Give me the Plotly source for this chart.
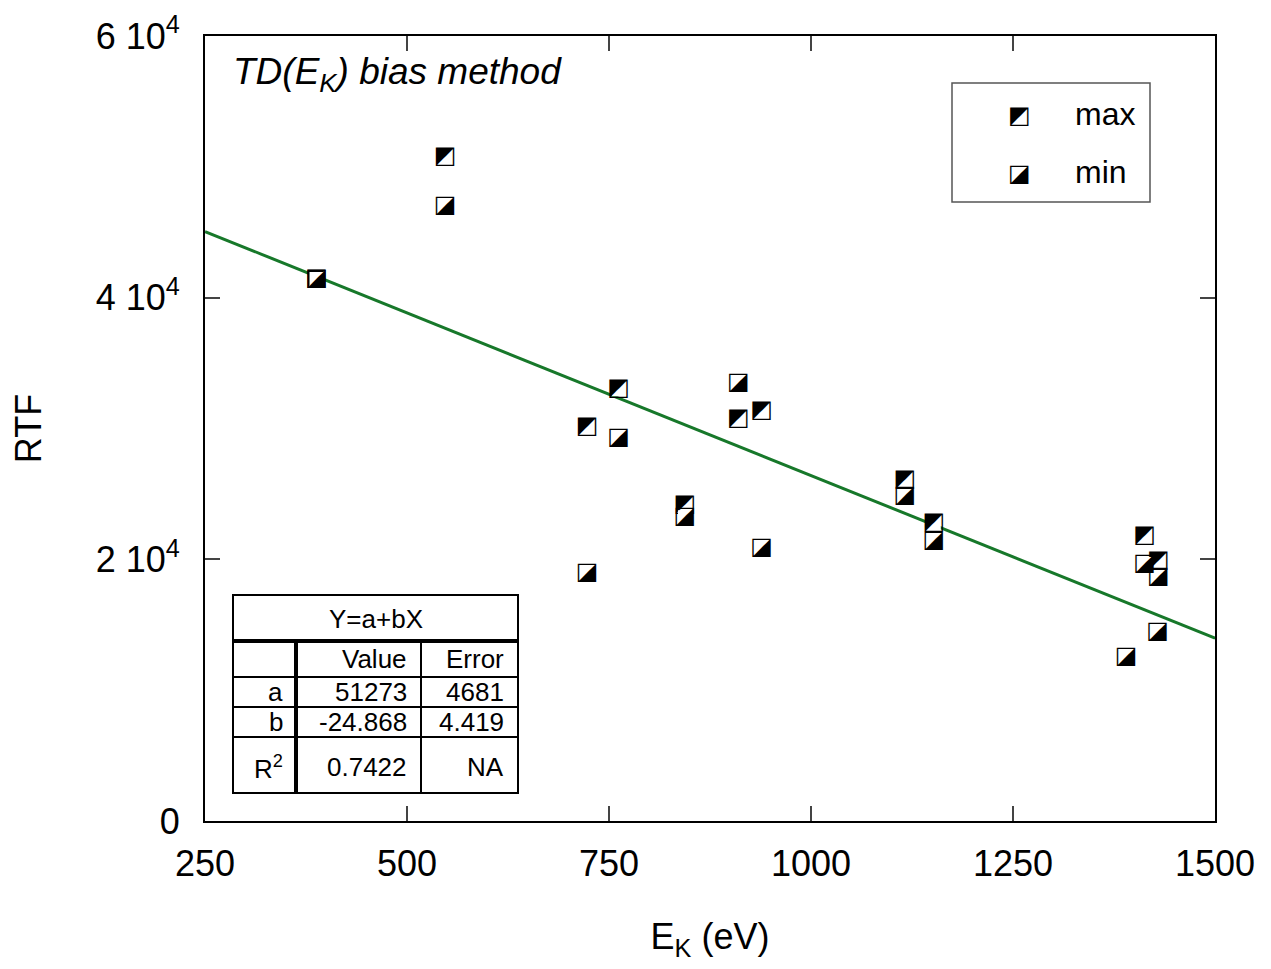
import plotly.graph_objects as go

# ---- data ----
max_x = [388, 547, 723, 762, 844, 910, 939, 1116, 1152, 1413, 1430]
max_y = [41428, 50730, 30077, 32997, 24177, 30727, 31361, 26026, 22755, 21761, 19850]
min_x = [388, 547, 723, 762, 844, 910, 939, 1116, 1152, 1413, 1430, 1429, 1390]
min_y = [41428, 47022, 18933, 29298, 23221, 33456, 20867, 24819, 21379, 19644, 18627, 14423, 12512]
fit_a = 51273
fit_b = -24.868
fit_x = [250, 1500]
x_ticks = [250, 500, 750, 1000, 1250, 1500]
y_ticks = [0, 20000, 40000, 60000]
y_ticktext = ["0", "2 10<sup>4</sup>", "4 10<sup>4</sup>", "6 10<sup>4</sup>"]
table_rows = [["", "Value", "Error"],
              ["a", "51273", "4681"],
              ["b", "-24.868", "4.419"],
              ["R<sup>2</sup>", "0.7422", "NA"]]

FONT = "Liberation Sans, Arial, Helvetica, sans-serif"
GLYPH_FONT = "DejaVu Sans"
MAX_GLYPH = "\u25E9"
MIN_GLYPH = "\u25EA"
GSIZE = 24

OFF = 8  # browser body margin
W, H = 1271 - OFF, 969 - OFF
L, R, T, B = 197, 56, 28, 148
PW, PH = W - L - R, H - T - B


def px(x):
    return (x - OFF - L) / PW


def py(y):
    return (H - B - (y - OFF)) / PH


fig = go.Figure()

fit_y = [fit_a + fit_b * v for v in fit_x]
fig.add_trace(go.Scatter(x=fit_x, y=fit_y, mode="lines",
                         line=dict(color="#17782a", width=3), showlegend=False))
for xs, ys, g in [(max_x, max_y, MAX_GLYPH), (min_x, min_y, MIN_GLYPH)]:
    fig.add_trace(go.Scatter(x=xs, y=ys, mode="markers+text", text=[g] * len(xs),
                             textposition="middle center",
                             marker=dict(symbol="square", size=14, color="white",
                                         line=dict(width=0)),
                             textfont=dict(family=GLYPH_FONT, size=GSIZE, color="black"),
                             showlegend=False))

shapes = []
annotations = []

# title text
annotations.append(dict(x=px(231), y=py(74), xref="paper", yref="paper", xanchor="left",
                        yanchor="middle", showarrow=False,
                        text="<i>TD(E<sub>K</sub>) bias method</i>",
                        font=dict(family=FONT, size=37, color="black")))

# legend box
shapes.append(dict(type="rect", xref="paper", yref="paper", x0=px(952), x1=px(1150),
                   y0=py(83), y1=py(202), line=dict(color="#555555", width=1.5)))
for glyph, label, yy in [(MAX_GLYPH, "max", 115), (MIN_GLYPH, "min", 173)]:
    annotations.append(dict(x=px(1019), y=py(yy), xref="paper", yref="paper",
                            xanchor="center", yanchor="middle", showarrow=False,
                            text=glyph, font=dict(family=GLYPH_FONT, size=GSIZE, color="black")))
    annotations.append(dict(x=px(1073), y=py(yy - 1), xref="paper", yref="paper",
                            xanchor="left", yanchor="middle", showarrow=False,
                            text=label, font=dict(family=FONT, size=32, color="black")))

# fit table
tl, tr, tt, tb = 233, 518, 595, 793
shapes.append(dict(type="rect", xref="paper", yref="paper", x0=px(tl), x1=px(tr),
                   y0=py(tt), y1=py(tb), line=dict(color="black", width=2),
                   fillcolor="white", layer="above"))
shapes.append(dict(type="line", xref="paper", yref="paper", x0=px(tl), x1=px(tr),
                   y0=py(641), y1=py(641), line=dict(color="black", width=4)))
for ly in [677, 707, 737]:
    shapes.append(dict(type="line", xref="paper", yref="paper", x0=px(tl), x1=px(tr),
                       y0=py(ly), y1=py(ly), line=dict(color="black", width=2)))
shapes.append(dict(type="line", xref="paper", yref="paper", x0=px(296), x1=px(296),
                   y0=py(641), y1=py(tb), line=dict(color="black", width=4)))
shapes.append(dict(type="line", xref="paper", yref="paper", x0=px(421), x1=px(421),
                   y0=py(641), y1=py(tb), line=dict(color="black", width=2)))
annotations.append(dict(x=px(376), y=py(619), xref="paper", yref="paper", xanchor="center",
                        yanchor="middle", showarrow=False, text="Y=a+bX",
                        font=dict(family=FONT, size=26, color="black")))
row_y = [659, 692, 722, 767]
col_right = [285, 409, 506]
for row, ry in zip(table_rows, row_y):
    for cell, cx in zip(row, col_right):
        if cell:
            annotations.append(dict(x=px(cx), y=py(ry), xref="paper", yref="paper",
                                    xanchor="right", yanchor="middle", showarrow=False,
                                    text=cell, font=dict(family=FONT, size=26, color="black")))

fig.update_layout(
    width=W, height=H,
    margin=dict(l=L, r=R, t=T, b=B, autoexpand=False),
    paper_bgcolor="white", plot_bgcolor="white",
    font=dict(family=FONT, size=36, color="black"),
    showlegend=False,
    shapes=shapes, annotations=annotations,
    xaxis=dict(range=[250, 1500], tickvals=x_ticks, ticks="inside", ticklen=15, tickwidth=2,
               showline=True, mirror="ticks", linewidth=2, linecolor="black",
               showgrid=False, zeroline=False, ticklabelstandoff=10, automargin=False,
               tickfont=dict(size=36),
               title=dict(text="E<sub>K</sub> (eV)", standoff=41, font=dict(size=36))),
    yaxis=dict(range=[0, 60000], tickvals=y_ticks, ticktext=y_ticktext, ticks="inside",
               ticklen=15, tickwidth=2, showline=True, mirror="ticks", linewidth=2,
               linecolor="black", showgrid=False, zeroline=False, ticklabelstandoff=16,
               automargin=False, tickfont=dict(size=36),
               title=dict(text="RTF", standoff=46, font=dict(size=36))),
)

fig.write_html("out.html")
